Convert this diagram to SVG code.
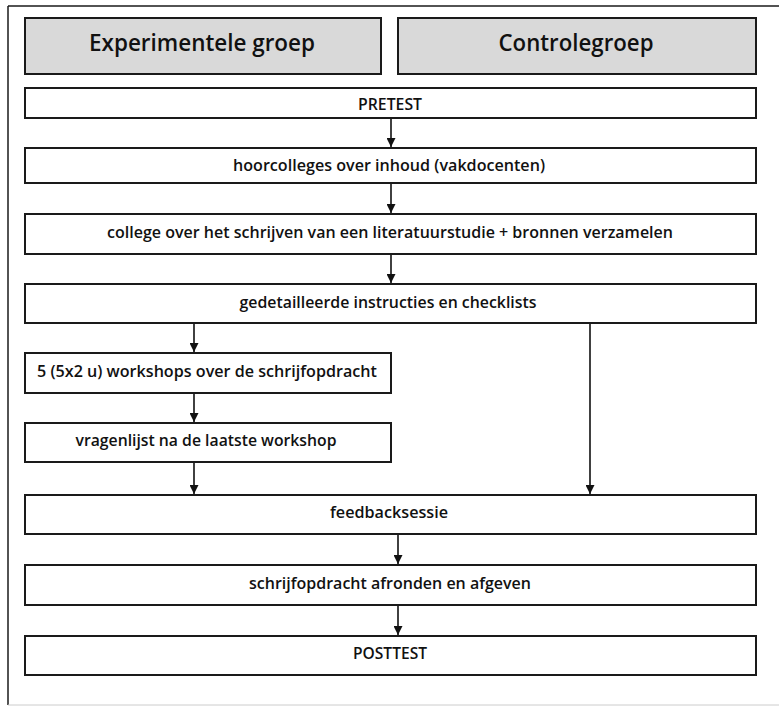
<svg xmlns="http://www.w3.org/2000/svg" width="779" height="706" viewBox="0 0 779 706">
<defs>
<style>
.box{fill:#fff;stroke:#1a1a1a;stroke-width:2}
.hdr{fill:#d9d9d9;stroke:#1a1a1a;stroke-width:2}
.t{font-family:"Open Sans","Liberation Sans",sans-serif;font-weight:600;font-size:15.5px;fill:#111;text-anchor:middle}
.h{font-family:"Open Sans","Liberation Sans",sans-serif;font-weight:600;font-size:23px;fill:#111;text-anchor:middle}
.c{stroke:#111;stroke-width:1.6;fill:none;marker-end:url(#ah)}
</style>
<marker id="ah" viewBox="0 0 10 10" refX="10" refY="5" markerWidth="9" markerHeight="9" markerUnits="userSpaceOnUse" orient="auto">
<path d="M0,0 L10,5 L0,10 z" fill="#111"/>
</marker>
</defs>
<rect width="779" height="706" fill="#fff"/>
<g id="frame">
<line x1="8" y1="6" x2="779" y2="6" stroke="#1a1a1a" stroke-width="1.5"/>
<line x1="8" y1="6" x2="8" y2="705" stroke="#1a1a1a" stroke-width="1.5"/>
<line x1="8" y1="705" x2="779" y2="705" stroke="#ccc" stroke-width="1"/>
</g>
<g id="hdr-exp"><rect class="hdr" x="25" y="18" width="356" height="56"/><text class="h" x="202" y="51" textLength="226" lengthAdjust="spacingAndGlyphs">Experimentele  groep</text></g>
<g id="hdr-ctrl"><rect class="hdr" x="398" y="18" width="358" height="56"/><text class="h" x="576" y="51" textLength="155" lengthAdjust="spacingAndGlyphs">Controlegroep</text></g>
<g id="pretest"><rect class="box" x="25" y="88" width="731" height="30"/><text class="t" x="390" y="110" textLength="64" lengthAdjust="spacingAndGlyphs">PRETEST</text></g>
<g id="hoorcolleges"><rect class="box" x="25" y="148" width="731" height="35"/><text class="t" x="389" y="171" textLength="312" lengthAdjust="spacingAndGlyphs">hoorcolleges over inhoud (vakdocenten)</text></g>
<g id="college"><rect class="box" x="25" y="214" width="731" height="40"/><text class="t" x="390" y="238" textLength="566" lengthAdjust="spacingAndGlyphs">college over het schrijven van een literatuurstudie + bronnen verzamelen</text></g>
<g id="instructies"><rect class="box" x="25" y="284" width="731" height="39"/><text class="t" x="388" y="308" textLength="297" lengthAdjust="spacingAndGlyphs">gedetailleerde instructies en checklists</text></g>
<g id="workshops"><rect class="box" x="25" y="353" width="366" height="40"/><text class="t" x="207" y="377" textLength="340" lengthAdjust="spacingAndGlyphs">5 (5x2 u) workshops over de schrijfopdracht</text></g>
<g id="vragenlijst"><rect class="box" x="25" y="423" width="366" height="39"/><text class="t" x="206" y="446" textLength="261" lengthAdjust="spacingAndGlyphs">vragenlijst na de laatste workshop</text></g>
<g id="feedback"><rect class="box" x="25" y="495" width="731" height="39"/><text class="t" x="389" y="518" textLength="118" lengthAdjust="spacingAndGlyphs">feedbacksessie</text></g>
<g id="afronden"><rect class="box" x="25" y="565" width="731" height="40"/><text class="t" x="390" y="589" textLength="282" lengthAdjust="spacingAndGlyphs">schrijfopdracht afronden en afgeven</text></g>
<g id="posttest"><rect class="box" x="25" y="636" width="731" height="39"/><text class="t" x="390" y="659" textLength="74" lengthAdjust="spacingAndGlyphs">POSTTEST</text></g>
<g id="connectors">
<line class="c" x1="391" y1="119" x2="391" y2="147"/>
<line class="c" x1="391" y1="184" x2="391" y2="213"/>
<line class="c" x1="391" y1="255" x2="391" y2="283"/>
<line class="c" x1="194" y1="324" x2="194" y2="352"/>
<line class="c" x1="194" y1="394" x2="194" y2="422"/>
<line class="c" x1="194" y1="463" x2="194" y2="494"/>
<line class="c" x1="590" y1="324" x2="590" y2="494"/>
<line class="c" x1="398" y1="535" x2="398" y2="564"/>
<line class="c" x1="398" y1="606" x2="398" y2="635"/>
</g>
</svg>
